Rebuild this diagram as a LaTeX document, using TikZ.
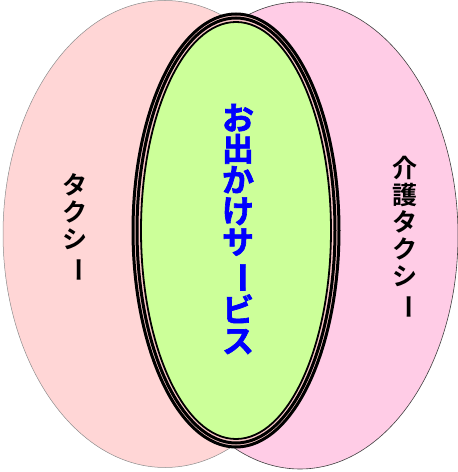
\documentclass[tikz,border=0pt]{standalone}
\usepackage{fontspec}
\usepackage{graphicx}
\usepackage{tikz}
\newfontfamily\cjk{Noto Sans CJK JP}[BoldFont={Noto Sans CJK JP Bold}]
\newfontfamily\cjkheavy{Noto Sans CJK JP Bold}[FakeBold=2]
\definecolor{taxipink}{RGB}{255,214,214}
\definecolor{kaigopink}{RGB}{255,204,230}
\definecolor{ringpink}{RGB}{250,200,200}
\definecolor{odekakegreen}{RGB}{204,255,153}
\newcommand{\chouon}{\rotatebox[origin=c]{-90}{ー}}

\begin{document}
\begin{tikzpicture}[x=1pt,y=1pt]
      \tikzstyle{every node}=[align=center,inner sep=0pt]
      \tikzstyle{tatesmall}=[font=\cjk\bfseries\fontsize{25}{27}\selectfont]
      \tikzstyle{tatebig}=[font=\cjkheavy\fontsize{32}{31}\selectfont,text=blue]

      \useasboundingbox (0,0) rectangle (458,472);

      % two big circles
      \draw [fill=taxipink,draw=black!45,line width=0.5pt] (165,238) ellipse (162 and 233.5);
      \draw [fill=kaigopink,draw=black!75,line width=0.6pt] (300,236.5) ellipse (158 and 233.5);

      % middle one with the ring
      \draw [fill=ringpink,line width=3pt] (236,241.5) ellipse (103 and 216.5);
      \draw [line width=3pt] (236,241.5) ellipse (99 and 212.5);
      \draw [fill=odekakegreen,line width=1.8pt] (236,241.5) ellipse (95 and 208.5);

      \node [tatesmall] (taxi) at (75,244) {タ\\ク\\シ\\\chouon};
      \node [tatesmall] (kaigo) at (405,234.5) {介\\護\\タ\\ク\\シ\\\chouon};
      \node [tatebig] (odekake) at (238,243) {お\\出\\か\\け\\サ\\\chouon\\ビ\\ス};
    \end{tikzpicture}
\end{document}
